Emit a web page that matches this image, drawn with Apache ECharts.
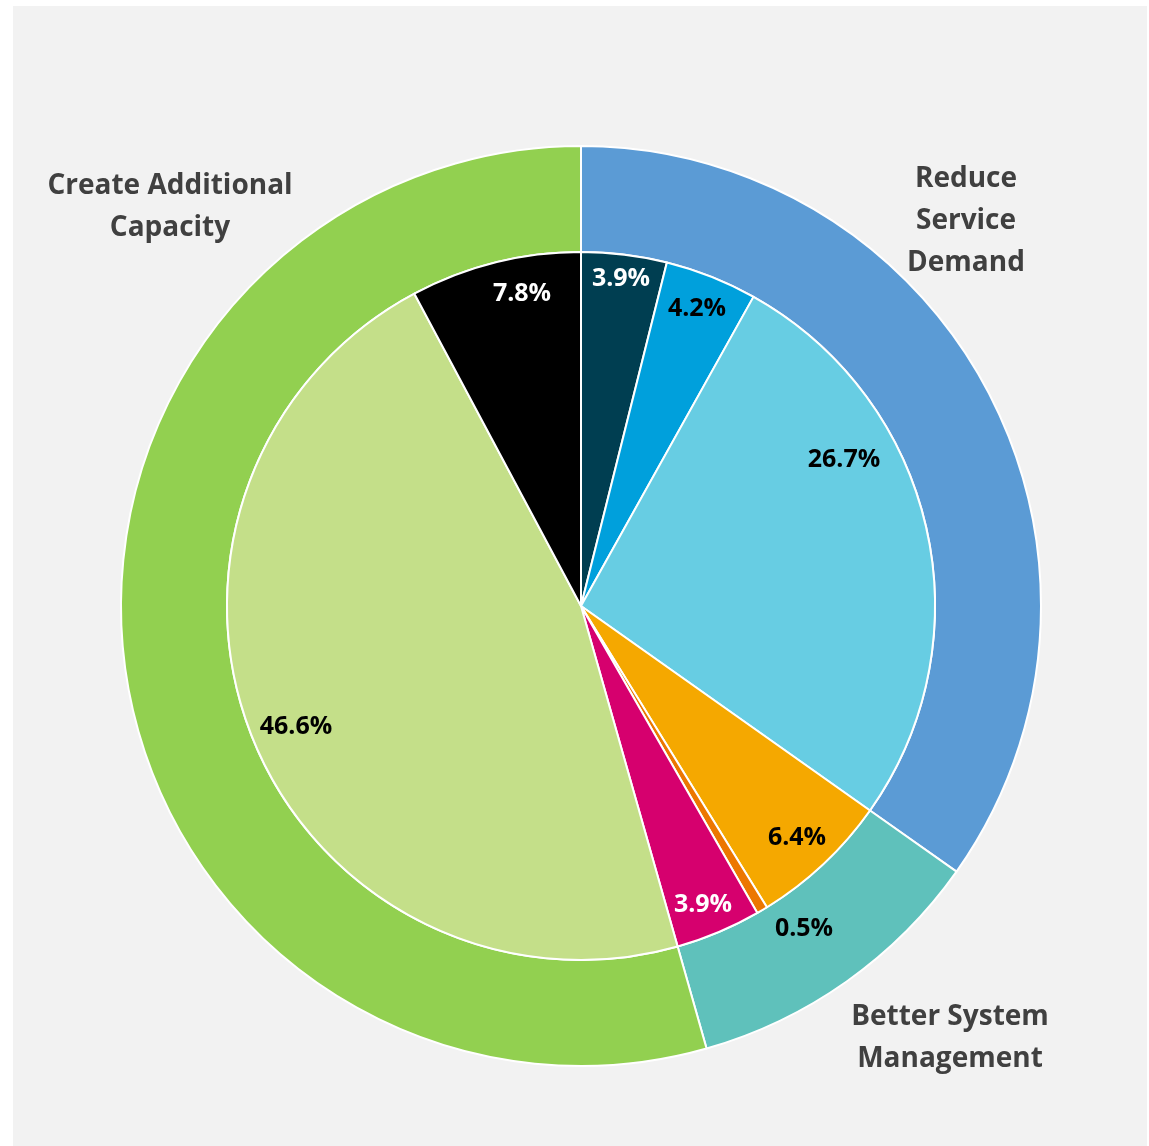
<!DOCTYPE html>
<html>
<head>
<meta charset="utf-8">
<script src="https://cdn.jsdelivr.net/npm/echarts@6/dist/echarts.min.js"></script>
<style>
  html, body { margin: 0; padding: 0; background: #ffffff; }
  #chart { width: 1149px; height: 1146px; }
</style>
</head>
<body>
<div id="chart"></div>
<script>
// Outer ring: strategy groups
const groupNames = ['Reduce\nService\nDemand', 'Better System\nManagement', 'Create Additional\nCapacity'];
const groupValues = [34.8, 10.8, 54.4];
const groupColors = ['#5b9bd5', '#5fc1bb', '#92d050'];

// Inner pie: individual shares (%)
const shareValues = [3.9, 4.2, 26.7, 6.4, 0.5, 3.9, 46.6, 7.8];
const shareColors = ['#003e51', '#00a0dc', '#67cde3', '#f5a800', '#ec7700', '#d6006e', '#c4df89', '#000000'];
const shareTextColors = ['#ffffff', '#000000', '#000000', '#000000', '#000000', '#ffffff', '#000000', '#ffffff'];

// Label anchor points (px)
const groupLabelPos = [[966, 221], [950, 1038], [170, 207]];
const shareLabelPos = [[621, 279], [697, 309], [844, 460], [797, 838], [804, 929], [703, 905], [296, 727], [522, 294]];

const FONT = '"Open Sans", "Liberation Sans", sans-serif';
const CX = 581, CY = 606, R_IN = 354, R_OUT = 460;

const shareTotal = shareValues.reduce((a, b) => a + b, 0);

// point on the rim of the inner pie at the middle of slice i
function sliceRimPoint(i) {
  let before = 0;
  for (let k = 0; k < i; k++) before += shareValues[k];
  const a = (before + shareValues[i] / 2) / shareTotal * Math.PI * 2;
  return [CX + R_IN * Math.sin(a), CY - R_IN * Math.cos(a)];
}

const chart = echarts.init(document.getElementById('chart'), null, { renderer: 'canvas' });

chart.setOption({
  backgroundColor: '#ffffff',
  animation: false,
  graphic: [{
    type: 'rect',
    z: -10,
    silent: true,
    shape: { x: 13, y: 6, width: 1134, height: 1140 },
    style: { fill: '#f2f2f2' }
  }],
  series: [
    {
      name: 'Groups',
      type: 'pie',
      center: [CX, CY],
      radius: [R_IN, R_OUT],
      startAngle: 90,
      clockwise: true,
      avoidLabelOverlap: false,
      itemStyle: { borderColor: '#ffffff', borderWidth: 2 },
      label: {
        show: true,
        position: 'outside',
        formatter: '{b}',
        color: '#404040',
        fontFamily: FONT,
        fontWeight: 'bold',
        fontSize: 28,
        lineHeight: 42,
        align: 'center'
      },
      labelLine: { show: false },
      labelLayout: function (p) {
        const pos = groupLabelPos[p.dataIndex];
        return { x: pos[0], y: pos[1], align: 'center', verticalAlign: 'middle' };
      },
      emphasis: { disabled: true },
      data: groupNames.map((n, i) => ({
        name: n,
        value: groupValues[i],
        itemStyle: { color: groupColors[i] }
      }))
    },
    {
      name: 'Shares',
      type: 'pie',
      center: [CX, CY],
      radius: [0, R_IN],
      startAngle: 90,
      clockwise: true,
      avoidLabelOverlap: false,
      itemStyle: { borderColor: '#ffffff', borderWidth: 2 },
      label: {
        show: true,
        position: 'outside',
        formatter: p => p.value.toFixed(1) + '%',
        fontFamily: FONT,
        fontWeight: 'bold',
        fontSize: 25
      },
      labelLine: { show: true, length: 4, length2: 6, lineStyle: { color: '#a6a6a6', width: 1 } },
      labelLayout: function (p) {
        const i = p.dataIndex;
        const pos = shareLabelPos[i];
        const out = { x: pos[0], y: pos[1], align: 'center', verticalAlign: 'middle' };
        if (shareValues[i] < 1) {
          // small slice: elbow leader from the slice rim to the label
          const s = sliceRimPoint(i);
          const left = pos[0] - p.labelRect.width / 2 - 2;
          out.labelLinePoints = [s, [s[0], pos[1] + 9], [left, pos[1] + 9]];
        }
        return out;
      },
      emphasis: { disabled: true },
      data: shareValues.map((v, i) => ({
        name: 's' + i,
        value: v,
        itemStyle: { color: shareColors[i] },
        label: { color: shareTextColors[i] },
        labelLine: { show: v < 1 }
      }))
    }
  ]
});
</script>
</body>
</html>
